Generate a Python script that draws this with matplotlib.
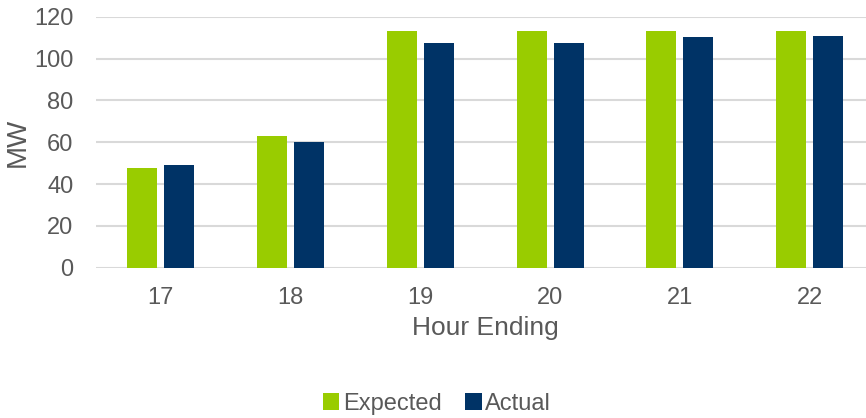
import matplotlib
matplotlib.use("Agg")
import matplotlib.pyplot as plt
import numpy as np

hours = ["17", "18", "19", "20", "21", "22"]
expected = [47.7, 63.0, 113.1, 113.1, 113.1, 113.1]
actual = [49.1, 60.1, 107.4, 107.4, 110.2, 110.7]

plt.rcParams['font.family'] = ['Liberation Sans', 'DejaVu Sans']
txt = '#595959'
green = '#99CC00'
navy = '#003366'

fig = plt.figure(figsize=(8.66, 4.18), dpi=100)
ax = fig.add_axes([95.6/866, 150.3/418, 779/866, 251/418])

x = np.arange(len(hours))
w = 0.231
off = (w + 0.054) / 2
ax.bar(x - off, expected, w, color=green, label='Expected', zorder=3)
ax.bar(x + off, actual, w, color=navy, label='Actual', zorder=3)

ax.set_xlim(-0.5, len(hours) - 0.5)
ax.set_ylim(0, 120)
ax.set_yticks(range(0, 121, 20))
ax.set_xticks(x)
ax.set_xticklabels(hours)
ax.grid(axis='y', color='#D9D9D9', lw=1.5, zorder=0)
ax.set_axisbelow(True)
for s in ax.spines.values():
    s.set_visible(False)
ax.tick_params(axis='both', length=0, labelsize=17, labelcolor=txt)
ax.tick_params(axis='x', pad=14)
ax.tick_params(axis='y', pad=16)
ax.set_xlabel('Hour Ending', fontsize=19, color=txt, labelpad=5)
ax.set_ylabel('MW', fontsize=20, color=txt, labelpad=2)

leg = fig.legend(loc='center', bbox_to_anchor=(437/866, 1 - 404/418), ncol=2,
                 frameon=False, fontsize=17, handlelength=0.7, handleheight=0.7,
                 handletextpad=0.15, columnspacing=1.0, labelcolor=txt)

fig.savefig('out.png', dpi=100)
